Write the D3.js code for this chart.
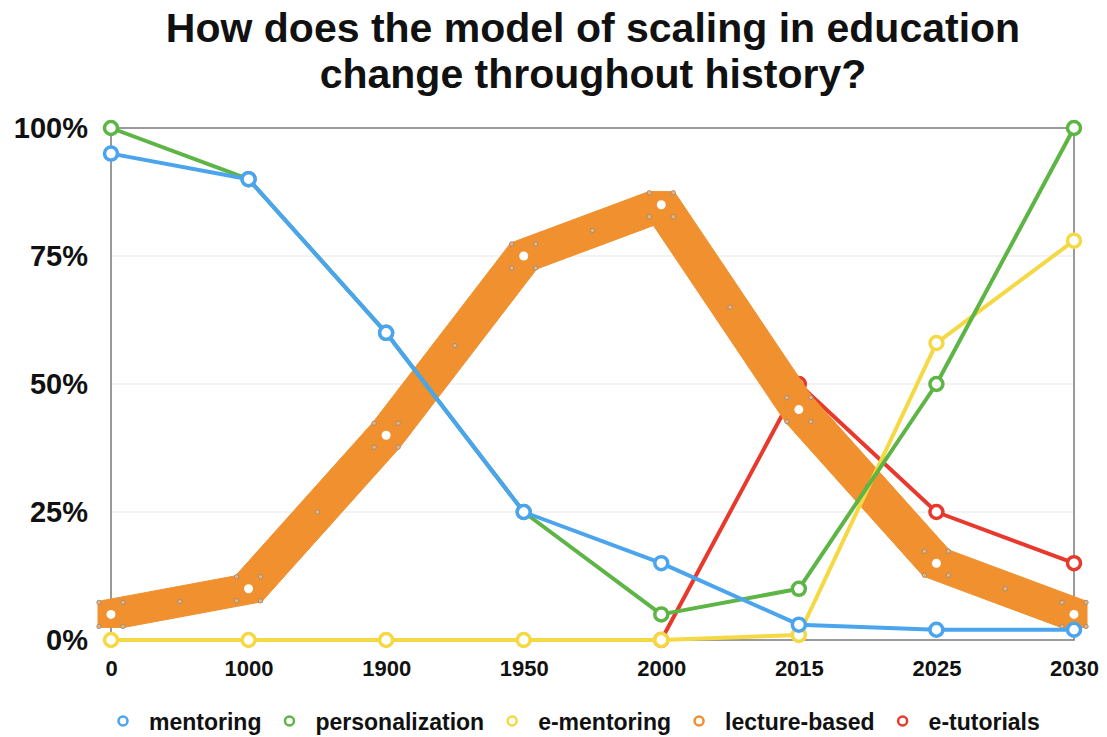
<!DOCTYPE html>
<html>
<head>
<meta charset="utf-8">
<script src="https://cdn.jsdelivr.net/npm/d3@7"></script>
<style>
  body { margin: 0; background: #fff; }
  svg { display: block; font-family: "Liberation Sans", Arial, Helvetica, sans-serif; }
</style>
</head>
<body>
<svg id="chart" width="1107" height="737"></svg>
<script>
// ---- data ----
const categories = ["0", "1000", "1900", "1950", "2000", "2015", "2025", "2030"];
const mentoring       = [95, 90, 60, 25, 15, 3, 2, 2];
const personalization = [100, 90, 60, 25, 5, 10, 50, 100];
const eMentoring      = [0, 0, 0, 0, 0, 1, 58, 78];
const lectureBased    = [5, 10, 40, 75, 85, 45, 15, 5];
const eTutorials      = [null, null, null, null, 0, 50, 25, 15];
const yTicks = [0, 25, 50, 75, 100];
const titleLines = ["How does the model of scaling in education", "change throughout history?"];

const seriesNames = ["mentoring", "personalization", "e-mentoring", "lecture-based", "e-tutorials"];
const colors = {
  "mentoring": "#4ba4ee",
  "personalization": "#5db545",
  "e-mentoring": "#f5d944",
  "lecture-based": "#f0902e",
  "e-tutorials": "#e8392d"
};

// ---- layout ----
const svg = d3.select("#chart");
const L = 111, R = 1074, T = 128, B = 640;

const x = d3.scalePoint().domain(categories).range([L, R]).padding(0);
const y = d3.scaleLinear().domain([0, 100]).range([B, T]);

// title
svg.append("g").selectAll("text").data(titleLines).join("text")
  .attr("x", 593)
  .attr("y", (d, i) => 42 + i * 46)
  .attr("text-anchor", "middle")
  .attr("font-size", 41)
  .attr("font-weight", "bold")
  .attr("fill", "#111")
  .text(d => d);

// gridlines
svg.append("g").selectAll("line").data(yTicks.filter(v => v > 0 && v < 100)).join("line")
  .attr("x1", L).attr("x2", R)
  .attr("y1", d => y(d)).attr("y2", d => y(d))
  .attr("stroke", "#efefef").attr("stroke-width", 1.5);

// frame
svg.append("rect")
  .attr("x", L).attr("y", T).attr("width", R - L).attr("height", B - T)
  .attr("fill", "none").attr("stroke", "#7a7a7a").attr("stroke-width", 1.5);

// axes
const yAxis = svg.append("g").attr("transform", `translate(${L},0)`)
  .call(d3.axisLeft(y).tickValues(yTicks).tickFormat(d => d + "%").tickSize(0).tickPadding(23));
yAxis.select(".domain").remove();
yAxis.selectAll("text").attr("font-size", 29).attr("font-weight", "bold").attr("fill", "#111")
  .attr("font-family", "'Liberation Sans', Arial, sans-serif");

const xAxis = svg.append("g").attr("transform", `translate(0,${B})`)
  .call(d3.axisBottom(x).tickSize(0).tickPadding(20));
xAxis.select(".domain").remove();
xAxis.selectAll("text").attr("font-size", 22).attr("font-weight", "bold").attr("fill", "#111")
  .attr("font-family", "'Liberation Sans', Arial, sans-serif");

// helpers
const line = d3.line()
  .defined(d => d.v !== null)
  .x(d => x(d.c)).y(d => y(d.v));

function pts(values) { return categories.map((c, i) => ({ c, v: values[i] })); }

function drawThin(values, color) {
  const g = svg.append("g");
  const p = pts(values);
  g.append("path").datum(p).attr("d", line)
    .attr("fill", "none").attr("stroke", color).attr("stroke-width", 4)
    .attr("stroke-linejoin", "round").attr("stroke-linecap", "round");
  g.selectAll("circle").data(p.filter(d => d.v !== null)).join("circle")
    .attr("cx", d => x(d.c)).attr("cy", d => y(d.v)).attr("r", 6.5)
    .attr("fill", "#fff").attr("stroke", color).attr("stroke-width", 3.5);
}

function drawBand(values, color) {
  const g = svg.append("g");
  const p = pts(values);
  const s = 13;
  const corners = d => [[x(d.c) - s, y(d.v) - s], [x(d.c) + s, y(d.v) - s],
                        [x(d.c) + s, y(d.v) + s], [x(d.c) - s, y(d.v) + s]];
  const segs = d3.pairs(p).map(([a, b]) => d3.polygonHull(corners(a).concat(corners(b))));
  g.selectAll("path").data(segs).join("path")
    .attr("d", d => "M" + d.join("L") + "Z")
    .attr("fill", color).attr("stroke", color).attr("stroke-width", 1);
  // small helper dots: corners and midpoints
  const cs = 12;
  const small = [];
  p.forEach(d => {
    [[-cs, -cs], [cs, -cs], [cs, cs], [-cs, cs]].forEach(([dx, dy]) =>
      small.push([x(d.c) + dx, y(d.v) + dy]));
  });
  d3.pairs(p).forEach(([a, b]) => small.push([(x(a.c) + x(b.c)) / 2, (y(a.v) + y(b.v)) / 2]));
  g.append("g").selectAll("circle").data(small).join("circle")
    .attr("cx", d => d[0]).attr("cy", d => d[1]).attr("r", 2.2)
    .attr("fill", "#f6b06a").attr("stroke", "#8c8c8c").attr("stroke-width", 0.9);
  g.append("g").selectAll("circle").data(p).join("circle")
    .attr("cx", d => x(d.c)).attr("cy", d => y(d.v)).attr("r", 4.5)
    .attr("fill", "#fff");
}

// draw order: red, orange, yellow, green, blue
drawThin(eTutorials, colors["e-tutorials"]);
drawBand(lectureBased, colors["lecture-based"]);
drawThin(eMentoring, colors["e-mentoring"]);
drawThin(personalization, colors["personalization"]);
drawThin(mentoring, colors["mentoring"]);

// legend
const lg = svg.append("g").attr("transform", "translate(123,721)");
let cx = 0;
seriesNames.forEach(name => {
  const it = lg.append("g").attr("transform", `translate(${cx},0)`);
  it.append("circle").attr("cx", 0).attr("cy", 0).attr("r", 4.5)
    .attr("fill", "#fff").attr("stroke", colors[name]).attr("stroke-width", 2.5);
  const t = it.append("text").attr("x", 26).attr("y", 9)
    .attr("font-size", 23).attr("font-weight", "bold").attr("fill", "#111").text(name);
  cx += 26 + t.node().getComputedTextLength() + 28;
});
</script>
</body>
</html>
